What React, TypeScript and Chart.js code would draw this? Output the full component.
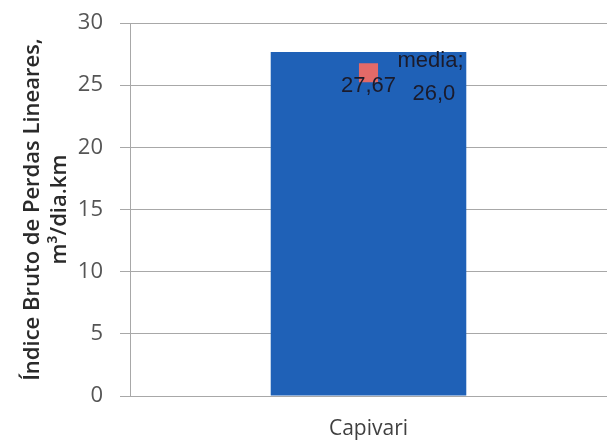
import React, { useEffect, useRef } from "react";
import { Chart, registerables } from "chart.js";

Chart.register(...registerables);

const categories = ["Capivari"];
const barValues = [27.67];
const mediaValues = [26.0];
const mediaLabel = "media";
const yTicks = [0, 5, 10, 15, 20, 25, 30];

const fmt = (v: number, d: number) => v.toFixed(d).replace(".", ",");

const labelPlugin = {
  id: "labels",
  afterDatasetsDraw(chart: any) {
    const ctx = chart.ctx;
    const x = chart.scales.x;
    const y = chart.scales.y;
    ctx.save();
    ctx.fillStyle = "#1b1b2b";
    ctx.font = "22px 'Liberation Sans', Arial, sans-serif";
    ctx.textBaseline = "alphabetic";
    categories.forEach((c, i) => {
      const cx = x.getPixelForValue(i);
      const by = y.getPixelForValue(barValues[i]);
      ctx.textAlign = "center";
      ctx.fillText(fmt(barValues[i], 2), cx, by + 40);
      const my = y.getPixelForValue(mediaValues[i]);
      ctx.textAlign = "left";
      ctx.fillText(mediaLabel + ";", cx + 29, my - 6);
      ctx.fillText(fmt(mediaValues[i], 1), cx + 44, my + 27);
    });
    ctx.restore();
  },
};

export default function App() {
  const ref = useRef<HTMLCanvasElement>(null);
  useEffect(() => {
    document.body.style.margin = "0";
    const chart = new Chart(ref.current!, {
      type: "bar",
      data: {
        labels: categories,
        datasets: [
          {
            type: "bar",
            data: barValues,
            backgroundColor: "#1F61B7",
            borderWidth: 0,
            barPercentage: 0.41,
            categoryPercentage: 1,
            order: 2,
          },
          {
            type: "line",
            data: mediaValues,
            showLine: false,
            pointStyle: "rect",
            pointRadius: 13.5,
            pointBorderWidth: 0,
            backgroundColor: "#E36A68",
            borderColor: "#E36A68",
            order: 1,
          } as any,
        ],
      },
      options: {
        animation: false,
        responsive: false,
        layout: { autoPadding: false, padding: { left: 20, right: 0, top: 23, bottom: 0 } },
        plugins: { legend: { display: false }, tooltip: { enabled: false } },
        scales: {
          x: {
            offset: true,
            grid: { display: false },
            border: { display: false },
            afterFit: (s: any) => {
              s.height = 45;
            },
            ticks: {
              color: "#404040",
              font: { size: 21, family: "'Open Sans', sans-serif" },
              padding: 12,
            },
          },
          y: {
            min: 0,
            max: 30,
            afterBuildTicks: (s: any) => {
              s.ticks = yTicks.map((v) => ({ value: v }));
            },
            afterFit: (s: any) => {
              s.width = 110;
              s.paddingTop = 0;
              s.paddingBottom = 0;
            },
            grid: { color: "#a8a8a8", tickLength: 10 },
            border: { display: true, color: "#a8a8a8" },
            ticks: {
              color: "#555555",
              font: { size: 22, family: "'Open Sans', sans-serif" },
              padding: 17,
            },
            title: {
              display: true,
              text: ["Índice Bruto de Perdas Lineares,", "m³/dia.km"],
              color: "#2a2a2a",
              font: { size: 22, weight: 600, family: "'Open Sans', sans-serif" },
              padding: { top: 0, bottom: 6 },
            },
          },
        },
      },
      plugins: [labelPlugin],
    });
    return () => chart.destroy();
  }, []);
  return (
    <div style={{ width: 607, height: 441, background: "#fff" }}>
      <canvas ref={ref} width={607} height={441} />
    </div>
  );
}
